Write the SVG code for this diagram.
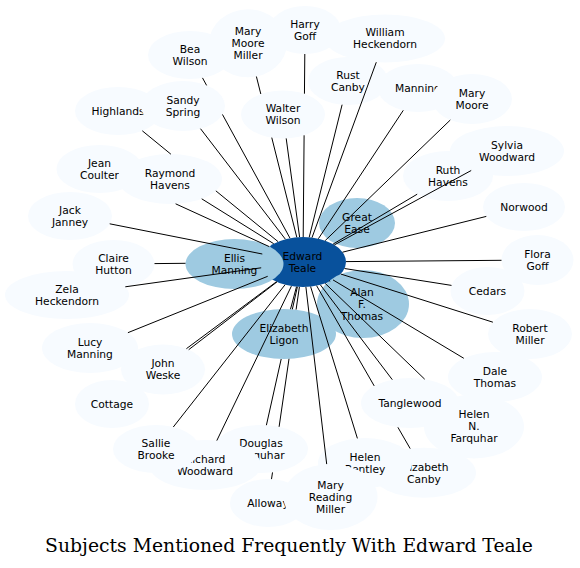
<svg xmlns="http://www.w3.org/2000/svg" width="580" height="568" viewBox="0 0 580 568">
<style>
.n ellipse{fill:#f7fbff}
.m ellipse{fill:#9ecae1}
.c ellipse{fill:#08519c}
text{font-family:"DejaVu Sans","Liberation Sans",sans-serif;font-size:10.7px;text-anchor:middle;fill:#000}
.t{font-family:"DejaVu Serif","Liberation Serif",serif;font-size:18.8px}
#edges path{stroke:#000;stroke-width:1;fill:none}
</style>
<rect width="580" height="568" fill="#fff"/>
<g id="nodes">
<g id="edward_teale" class="c"><ellipse cx="303" cy="262" rx="43" ry="25"/><text x="302.5" y="259.8">Edward</text><text x="302.5" y="271.8">Teale</text></g>
<g id="alan_f_thomas" class="m"><ellipse cx="363" cy="304" rx="46" ry="34"/><text x="362" y="295.8">Alan</text><text x="362" y="307.8">F.</text><text x="362" y="319.8">Thomas</text></g>
<g id="alloway" class="n"><ellipse cx="268" cy="503" rx="38" ry="24"/><text x="268" y="506.8">Alloway</text></g>
<g id="bea_wilson" class="n"><ellipse cx="190" cy="55" rx="42" ry="24"/><text x="190" y="52.8">Bea</text><text x="190" y="64.8">Wilson</text></g>
<g id="cedars" class="n"><ellipse cx="487.5" cy="291" rx="37" ry="24"/><text x="487.5" y="294.8">Cedars</text></g>
<g id="claire_hutton" class="n"><ellipse cx="113.5" cy="264" rx="41" ry="24"/><text x="113.5" y="261.8">Claire</text><text x="113.5" y="273.8">Hutton</text></g>
<g id="cottage" class="n"><ellipse cx="112" cy="404" rx="37" ry="24"/><text x="112" y="407.8">Cottage</text></g>
<g id="dale_thomas" class="n"><ellipse cx="495" cy="377" rx="47" ry="25"/><text x="495" y="374.8">Dale</text><text x="495" y="386.8">Thomas</text></g>
<g id="douglas_farquhar" class="n"><ellipse cx="261" cy="449" rx="47" ry="24"/><text x="261" y="446.8">Douglas</text><text x="261" y="458.8">Farquhar</text></g>
<g id="elizabeth_canby" class="n"><ellipse cx="424" cy="472.7" rx="52" ry="25"/><text x="424" y="470.5">Elizabeth</text><text x="424" y="482.5">Canby</text></g>
<g id="elizabeth_ligon" class="m"><ellipse cx="284" cy="334" rx="52" ry="25"/><text x="284" y="331.8">Elizabeth</text><text x="284" y="343.8">Ligon</text></g>
<g id="ellis_manning" class="m"><ellipse cx="234.5" cy="264" rx="49" ry="25"/><text x="234.5" y="261.8">Ellis</text><text x="234.5" y="273.8">Manning</text></g>
<g id="flora_goff" class="n"><ellipse cx="537.5" cy="260" rx="36" ry="25"/><text x="537.5" y="257.8">Flora</text><text x="537.5" y="269.8">Goff</text></g>
<g id="great_ease" class="m"><ellipse cx="357" cy="223" rx="38" ry="25"/><text x="357" y="220.8">Great</text><text x="357" y="232.8">Ease</text></g>
<g id="harry_goff" class="n"><ellipse cx="305" cy="30" rx="36" ry="24"/><text x="305" y="27.8">Harry</text><text x="305" y="39.8">Goff</text></g>
<g id="helen_bentley" class="n"><ellipse cx="365" cy="463" rx="47" ry="25"/><text x="365" y="460.8">Helen</text><text x="365" y="472.8">Bentley</text></g>
<g id="helen_n_farquhar" class="n"><ellipse cx="474" cy="426.5" rx="50" ry="32"/><text x="474" y="418.3">Helen</text><text x="474" y="430.3">N.</text><text x="474" y="442.3">Farquhar</text></g>
<g id="highlands" class="n"><ellipse cx="118" cy="111" rx="43" ry="24"/><text x="118" y="114.8">Highlands</text></g>
<g id="jack_janney" class="n"><ellipse cx="70" cy="216" rx="42" ry="24"/><text x="70" y="213.8">Jack</text><text x="70" y="225.8">Janney</text></g>
<g id="jean_coulter" class="n"><ellipse cx="99.5" cy="169" rx="43" ry="24"/><text x="99.5" y="166.8">Jean</text><text x="99.5" y="178.8">Coulter</text></g>
<g id="john_weske" class="n"><ellipse cx="163" cy="369.5" rx="42" ry="25"/><text x="163" y="367.3">John</text><text x="163" y="379.3">Weske</text></g>
<g id="lucy_manning" class="n"><ellipse cx="90" cy="348" rx="48" ry="25"/><text x="90" y="345.8">Lucy</text><text x="90" y="357.8">Manning</text></g>
<g id="manning" class="n"><ellipse cx="418" cy="88" rx="40" ry="24"/><text x="418" y="91.8">Manning</text></g>
<g id="mary_moore" class="n"><ellipse cx="472" cy="99" rx="40" ry="25"/><text x="472" y="96.8">Mary</text><text x="472" y="108.8">Moore</text></g>
<g id="mary_moore_miller" class="n"><ellipse cx="248" cy="43.3" rx="39" ry="34"/><text x="248" y="35.1">Mary</text><text x="248" y="47.1">Moore</text><text x="248" y="59.1">Miller</text></g>
<g id="mary_reading_miller" class="n"><ellipse cx="330.5" cy="497" rx="47" ry="33"/><text x="330.5" y="488.8">Mary</text><text x="330.5" y="500.8">Reading</text><text x="330.5" y="512.8">Miller</text></g>
<g id="norwood" class="n"><ellipse cx="524" cy="207" rx="41" ry="24"/><text x="524" y="210.8">Norwood</text></g>
<g id="raymond_havens" class="n"><ellipse cx="170" cy="179" rx="52" ry="25"/><text x="170" y="176.8">Raymond</text><text x="170" y="188.8">Havens</text></g>
<g id="richard_woodward" class="n"><ellipse cx="205" cy="465" rx="56" ry="25"/><text x="205" y="462.8">Richard</text><text x="205" y="474.8">Woodward</text></g>
<g id="robert_miller" class="n"><ellipse cx="530" cy="334" rx="42" ry="25"/><text x="530" y="331.8">Robert</text><text x="530" y="343.8">Miller</text></g>
<g id="ruth_havens" class="n"><ellipse cx="448" cy="176" rx="45" ry="25"/><text x="448" y="173.8">Ruth</text><text x="448" y="185.8">Havens</text></g>
<g id="rust_canby" class="n"><ellipse cx="348" cy="81" rx="40" ry="24"/><text x="348" y="78.8">Rust</text><text x="348" y="90.8">Canby</text></g>
<g id="sallie_brooke" class="n"><ellipse cx="156" cy="449" rx="43" ry="24"/><text x="156" y="446.8">Sallie</text><text x="156" y="458.8">Brooke</text></g>
<g id="sandy_spring" class="n"><ellipse cx="183" cy="106" rx="42" ry="25"/><text x="183" y="103.8">Sandy</text><text x="183" y="115.8">Spring</text></g>
<g id="sylvia_woodward" class="n"><ellipse cx="507" cy="151" rx="57" ry="25"/><text x="507" y="148.8">Sylvia</text><text x="507" y="160.8">Woodward</text></g>
<g id="tanglewood" class="n"><ellipse cx="410" cy="403" rx="49" ry="25"/><text x="410" y="406.8">Tanglewood</text></g>
<g id="walter_wilson" class="n"><ellipse cx="283" cy="114.5" rx="42" ry="24"/><text x="283" y="112.3">Walter</text><text x="283" y="124.3">Wilson</text></g>
<g id="william_heckendorn" class="n"><ellipse cx="385" cy="38.5" rx="60" ry="24"/><text x="385" y="36.3">William</text><text x="385" y="48.3">Heckendorn</text></g>
<g id="zela_heckendorn" class="n"><ellipse cx="67" cy="295" rx="62" ry="24"/><text x="67" y="292.8">Zela</text><text x="67" y="304.8">Heckendorn</text></g>
</g>
<g id="edges">
<path d="M330.2,281.4L329.2,280.7"/>
<path d="M299.4,286.9L296.1,309.6M289,358.8L279.1,426.8M272.5,472.4L271.5,479.1"/>
<path d="M290,238.2L222.45,114.45M206.6,85.4L202.5,77.9"/>
<path d="M344.5,268.5L451.5,285.4"/>
<path d="M185.5,263.3L154.5,263.6"/>
<path d="M276.5,281.7L186.4,348.7"/>
<path d="M333,279.9L463.8,358.3"/>
<path d="M297.4,286.8L292.3,309.4M281.2,359L266.4,425.2"/>
<path d="M316.6,285.7L374.2,385.9M397.9,427.3L410.2,448.6"/>
<path d="M296.5,286.7L290.5,309.2"/>
<path d="M346,261.6L501.5,260.3"/>
<path d="M303.2,237L304.1,135.3M304.45,93.7L304.8,54"/>
<path d="M310.6,286.6L357.4,438.4"/>
<path d="M325.2,283.4L424.7,379.2"/>
<path d="M278,241.6L215.85,190.85M170.9,154.2L142.3,130.8"/>
<path d="M262.3,254L109.7,223.8"/>
<path d="M269.2,246.6L175.6,203.8"/>
<path d="M277,281.9L188.7,349.7"/>
<path d="M267.7,276.3L127.9,332.7"/>
<path d="M318.4,238.7L403.3,110.3"/>
<path d="M325.2,240.6L450.3,120"/>
<path d="M296.8,237.3L271.75,137.6M260.8,94L256.4,76.5"/>
<path d="M305.9,286.9L326.7,464.1"/>
<path d="M342.5,252.2L486.3,216.4"/>
<path d="M273.7,243.7L201.7,198.8"/>
<path d="M291.4,286.1L216.8,440.6"/>
<path d="M340.7,274L492.9,322.2"/>
<path d="M333.1,244.1L417.2,194.2"/>
<path d="M309.2,237.3L342.1,104.7"/>
<path d="M285.1,284.7L173.3,427"/>
<path d="M285.4,239.2L200.5,128.7"/>
<path d="M334.4,244.9L471.2,170.5"/>
<path d="M320.4,284.9L392.3,379.7"/>
<path d="M299.6,237.1L286.2,138.4"/>
<path d="M312,237.6L376.3,62.2"/>
<path d="M261.2,267.8L125.3,286.8"/>
</g>
<text class="t" x="289" y="552">Subjects Mentioned Frequently With Edward Teale</text>
</svg>
